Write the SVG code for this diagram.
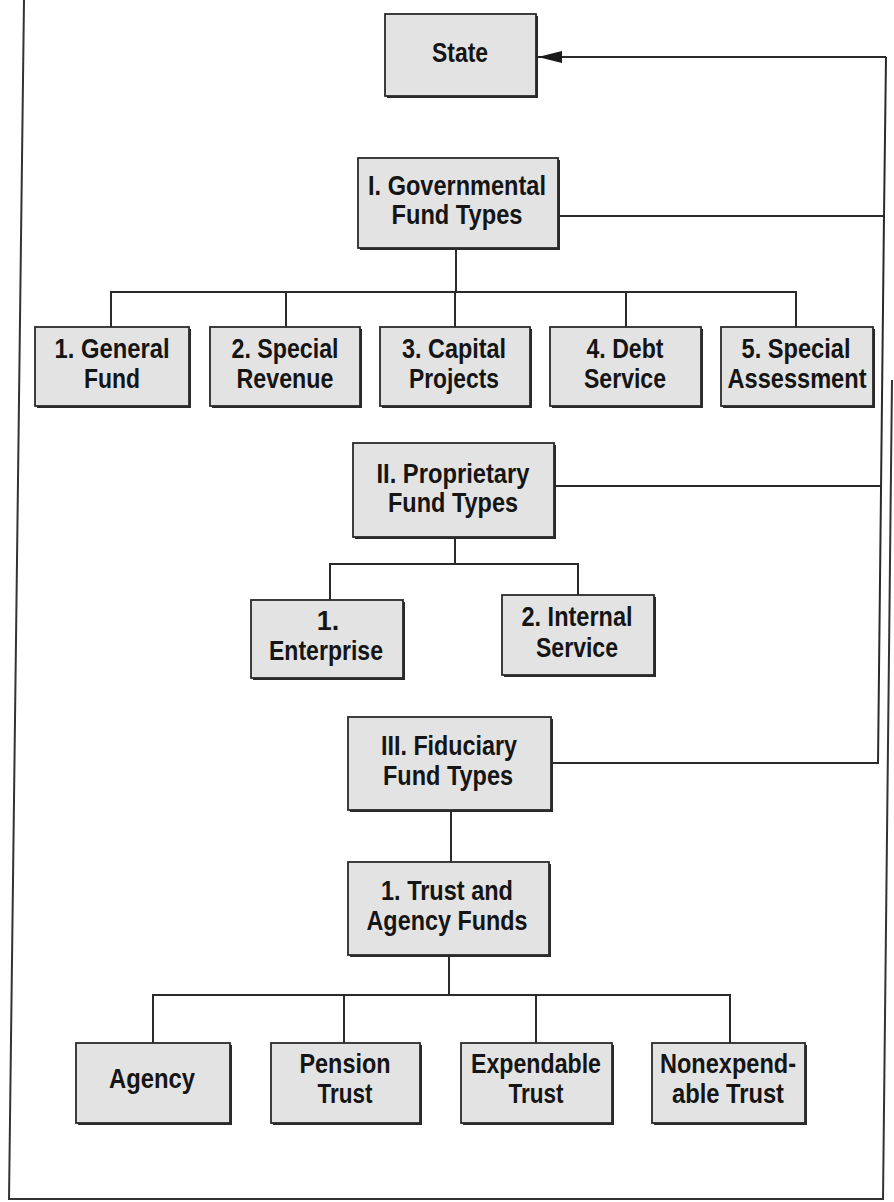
<svg xmlns="http://www.w3.org/2000/svg" width="894" height="1202" viewBox="0 0 894 1202">
<defs>
<style>
.bx{fill:#e3e3e3;stroke:#2a2a2a;stroke-width:1.8}
.sh{fill:#2a2a2a}
.t{font-family:"Liberation Sans Narrow","Liberation Sans",Arial,sans-serif;font-weight:bold;font-size:27px;fill:#151515;text-anchor:middle}
.ln{fill:none;stroke:#2a2a2a;stroke-width:2}
.fr{fill:none;stroke:#333;stroke-width:2}
</style>
<marker id="ah" markerUnits="userSpaceOnUse" markerWidth="26" markerHeight="14" refX="24" refY="7" orient="auto" viewBox="0 0 26 14">
<path d="M0,1 L24,7 L0,13 Z" fill="#1a1a1a"/>
</marker>
</defs>
<rect width="894" height="1202" fill="#ffffff"/>
<g id="frame">
<line class="fr" x1="24" y1="0" x2="9" y2="1200"/>
<line class="fr" x1="9" y1="1199" x2="883" y2="1199"/>
<line class="fr" x1="892" y1="380" x2="883" y2="1200"/>
</g>
<g id="connectors">
<polyline class="ln" points="558,216 884,216 886,57"/>
<line class="ln" x1="886" y1="57" x2="538" y2="57" marker-end="url(#ah)"/>
<polyline class="ln" points="554,486 881,486"/>
<polyline class="ln" points="551,763 878,763 884,216"/>
<line class="ln" x1="456" y1="248" x2="456" y2="292"/>
<polyline class="ln" points="111,327 111,292 796,292 796,327"/>
<line class="ln" x1="286" y1="292" x2="286" y2="327"/>
<line class="ln" x1="455" y1="292" x2="455" y2="327"/>
<line class="ln" x1="626" y1="292" x2="626" y2="327"/>
<line class="ln" x1="455" y1="537" x2="455" y2="564"/>
<polyline class="ln" points="330,600 330,564 578,564 578,595"/>
<line class="ln" x1="451" y1="810" x2="451" y2="862"/>
<line class="ln" x1="449" y1="955" x2="449" y2="995"/>
<polyline class="ln" points="153,1043 153,995 730,995 730,1043"/>
<line class="ln" x1="344" y1="995" x2="344" y2="1043"/>
<line class="ln" x1="536" y1="995" x2="536" y2="1043"/>
</g>
<g id="state">
<rect class="sh" x="387" y="16" width="151" height="82"/>
<rect class="bx" x="385" y="14" width="151" height="82"/>
<text class="t" x="460" y="62" textLength="56" lengthAdjust="spacingAndGlyphs">State</text>
</g>
<g id="governmental">
<rect class="sh" x="360" y="160" width="200" height="90"/>
<rect class="bx" x="358" y="158" width="200" height="90"/>
<text class="t" x="457" y="195" textLength="178" lengthAdjust="spacingAndGlyphs">I. Governmental</text>
<text class="t" x="457" y="224" textLength="131" lengthAdjust="spacingAndGlyphs">Fund Types</text>
</g>
<g id="general-fund">
<rect class="sh" x="37" y="329" width="154" height="79"/>
<rect class="bx" x="35" y="327" width="154" height="79"/>
<text class="t" x="112" y="358" textLength="115" lengthAdjust="spacingAndGlyphs">1. General</text>
<text class="t" x="112" y="388" textLength="56" lengthAdjust="spacingAndGlyphs">Fund</text>
</g>
<g id="special-revenue">
<rect class="sh" x="212" y="329" width="150" height="79"/>
<rect class="bx" x="210" y="327" width="150" height="79"/>
<text class="t" x="285" y="358" textLength="107" lengthAdjust="spacingAndGlyphs">2. Special</text>
<text class="t" x="285" y="388" textLength="97" lengthAdjust="spacingAndGlyphs">Revenue</text>
</g>
<g id="capital-projects">
<rect class="sh" x="382" y="329" width="150" height="79"/>
<rect class="bx" x="380" y="327" width="150" height="79"/>
<text class="t" x="454" y="358" textLength="104" lengthAdjust="spacingAndGlyphs">3. Capital</text>
<text class="t" x="454" y="388" textLength="90" lengthAdjust="spacingAndGlyphs">Projects</text>
</g>
<g id="debt-service">
<rect class="sh" x="552" y="329" width="151" height="79"/>
<rect class="bx" x="550" y="327" width="151" height="79"/>
<text class="t" x="625" y="358" textLength="77" lengthAdjust="spacingAndGlyphs">4. Debt</text>
<text class="t" x="625" y="388" textLength="82" lengthAdjust="spacingAndGlyphs">Service</text>
</g>
<g id="special-assessment">
<rect class="sh" x="723" y="329" width="152" height="79"/>
<rect class="bx" x="721" y="327" width="152" height="79"/>
<text class="t" x="796" y="358" textLength="109" lengthAdjust="spacingAndGlyphs">5. Special</text>
<text class="t" x="797" y="388" textLength="139" lengthAdjust="spacingAndGlyphs">Assessment</text>
</g>
<g id="proprietary">
<rect class="sh" x="355" y="445" width="201" height="94"/>
<rect class="bx" x="353" y="443" width="201" height="94"/>
<text class="t" x="453" y="483" textLength="153" lengthAdjust="spacingAndGlyphs">II. Proprietary</text>
<text class="t" x="453" y="512" textLength="130" lengthAdjust="spacingAndGlyphs">Fund Types</text>
</g>
<g id="enterprise">
<rect class="sh" x="253" y="602" width="152" height="78"/>
<rect class="bx" x="251" y="600" width="152" height="78"/>
<text class="t" x="328" y="630">1.</text>
<text class="t" x="326" y="660" textLength="114" lengthAdjust="spacingAndGlyphs">Enterprise</text>
</g>
<g id="internal-service">
<rect class="sh" x="504" y="597" width="152" height="80"/>
<rect class="bx" x="502" y="595" width="152" height="80"/>
<text class="t" x="577" y="626" textLength="111" lengthAdjust="spacingAndGlyphs">2. Internal</text>
<text class="t" x="577" y="657" textLength="82" lengthAdjust="spacingAndGlyphs">Service</text>
</g>
<g id="fiduciary">
<rect class="sh" x="350" y="719" width="203" height="93"/>
<rect class="bx" x="348" y="717" width="203" height="93"/>
<text class="t" x="449" y="755" textLength="136" lengthAdjust="spacingAndGlyphs">III. Fiduciary</text>
<text class="t" x="448" y="785" textLength="130" lengthAdjust="spacingAndGlyphs">Fund Types</text>
</g>
<g id="trust-agency">
<rect class="sh" x="350" y="864" width="201" height="93"/>
<rect class="bx" x="348" y="862" width="201" height="93"/>
<text class="t" x="447" y="900" textLength="132" lengthAdjust="spacingAndGlyphs">1. Trust and</text>
<text class="t" x="447" y="930" textLength="161" lengthAdjust="spacingAndGlyphs">Agency Funds</text>
</g>
<g id="agency">
<rect class="sh" x="78" y="1045" width="154" height="80"/>
<rect class="bx" x="76" y="1043" width="154" height="80"/>
<text class="t" x="152" y="1088" textLength="86" lengthAdjust="spacingAndGlyphs">Agency</text>
</g>
<g id="pension-trust">
<rect class="sh" x="273" y="1045" width="149" height="80"/>
<rect class="bx" x="271" y="1043" width="149" height="80"/>
<text class="t" x="345" y="1073" textLength="91" lengthAdjust="spacingAndGlyphs">Pension</text>
<text class="t" x="345" y="1103" textLength="55" lengthAdjust="spacingAndGlyphs">Trust</text>
</g>
<g id="expendable-trust">
<rect class="sh" x="463" y="1045" width="151" height="80"/>
<rect class="bx" x="461" y="1043" width="151" height="80"/>
<text class="t" x="536" y="1073" textLength="130" lengthAdjust="spacingAndGlyphs">Expendable</text>
<text class="t" x="536" y="1103" textLength="55" lengthAdjust="spacingAndGlyphs">Trust</text>
</g>
<g id="nonexpendable-trust">
<rect class="sh" x="654" y="1045" width="153" height="80"/>
<rect class="bx" x="652" y="1043" width="153" height="80"/>
<text class="t" x="728" y="1073" textLength="136" lengthAdjust="spacingAndGlyphs">Nonexpend-</text>
<text class="t" x="728" y="1103" textLength="112" lengthAdjust="spacingAndGlyphs">able Trust</text>
</g>
</svg>
